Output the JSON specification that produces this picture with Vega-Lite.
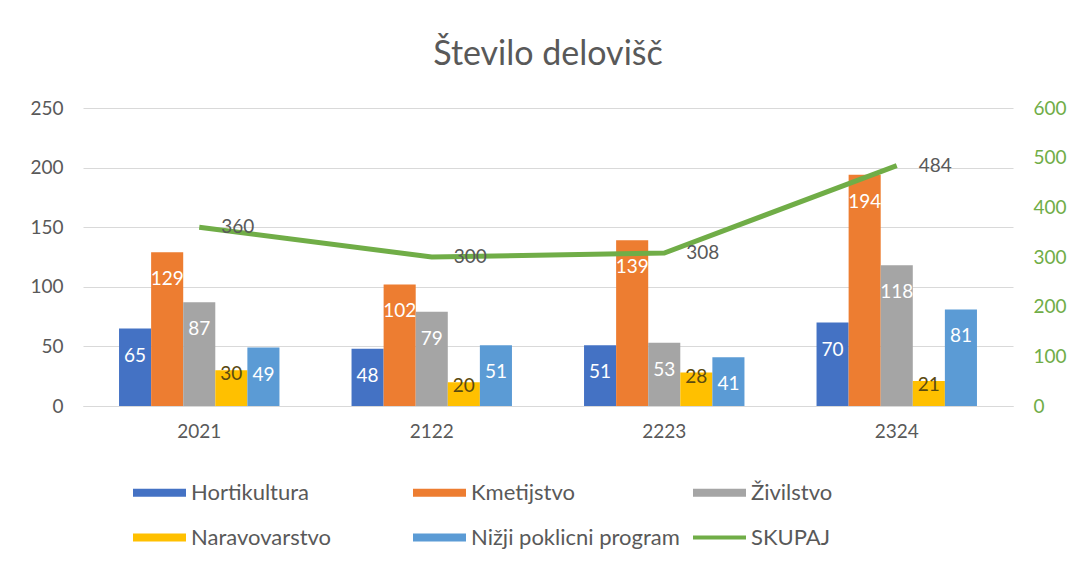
{
  "$schema": "https://vega.github.io/schema/vega-lite/v6.json",
  "autosize": "none",
  "width": 930,
  "height": 298,
  "padding": {"left": 83, "top": 108, "right": 62, "bottom": 158},
  "background": "white",
  "config": {
    "font": "Lato",
    "view": {"stroke": null},
    "axis": {"labelFont": "Lato", "labelFontSize": 19, "labelColor": "#595959", "ticks": false, "title": null}
  },
  "title": {"text": "Število delovišč", "fontSize": 34, "fontWeight": "normal", "color": "#595959", "font": "Lato", "offset": 27},
  "datasets": {
    "bars": [
      {"leto": "2021", "kategorija": "Hortikultura", "vrednost": 65},
      {"leto": "2021", "kategorija": "Kmetijstvo", "vrednost": 129},
      {"leto": "2021", "kategorija": "Živilstvo", "vrednost": 87},
      {"leto": "2021", "kategorija": "Naravovarstvo", "vrednost": 30},
      {"leto": "2021", "kategorija": "Nižji poklicni program", "vrednost": 49},
      {"leto": "2122", "kategorija": "Hortikultura", "vrednost": 48},
      {"leto": "2122", "kategorija": "Kmetijstvo", "vrednost": 102},
      {"leto": "2122", "kategorija": "Živilstvo", "vrednost": 79},
      {"leto": "2122", "kategorija": "Naravovarstvo", "vrednost": 20},
      {"leto": "2122", "kategorija": "Nižji poklicni program", "vrednost": 51},
      {"leto": "2223", "kategorija": "Hortikultura", "vrednost": 51},
      {"leto": "2223", "kategorija": "Kmetijstvo", "vrednost": 139},
      {"leto": "2223", "kategorija": "Živilstvo", "vrednost": 53},
      {"leto": "2223", "kategorija": "Naravovarstvo", "vrednost": 28},
      {"leto": "2223", "kategorija": "Nižji poklicni program", "vrednost": 41},
      {"leto": "2324", "kategorija": "Hortikultura", "vrednost": 70},
      {"leto": "2324", "kategorija": "Kmetijstvo", "vrednost": 194},
      {"leto": "2324", "kategorija": "Živilstvo", "vrednost": 118},
      {"leto": "2324", "kategorija": "Naravovarstvo", "vrednost": 21},
      {"leto": "2324", "kategorija": "Nižji poklicni program", "vrednost": 81}
    ],
    "totals": [
      {"leto": "2021", "skupaj": 360},
      {"leto": "2122", "skupaj": 300},
      {"leto": "2223", "skupaj": 308},
      {"leto": "2324", "skupaj": 484}
    ]
  },
  "encoding": {
    "x": {
      "field": "leto", "type": "nominal",
      "scale": {"paddingInner": 0.31, "paddingOuter": 0.155},
      "axis": {"labelAngle": 0, "labelPadding": 16, "domain": true, "domainColor": "#D9D9D9", "grid": false}
    }
  },
  "layer": [
    {
      "data": {"name": "bars"},
      "encoding": {
        "xOffset": {"field": "kategorija", "type": "nominal", "sort": ["Hortikultura", "Kmetijstvo", "Živilstvo", "Naravovarstvo", "Nižji poklicni program"], "scale": {"paddingInner": 0, "paddingOuter": 0}},
        "y": {
          "field": "vrednost", "type": "quantitative",
          "scale": {"domain": [0, 250], "nice": false},
          "axis": {"values": [0, 50, 100, 150, 200, 250], "domain": false, "grid": true, "gridColor": "#D9D9D9", "labelPadding": 20}
        }
      },
      "layer": [
        {
          "mark": {"type": "bar"},
          "encoding": {
            "color": {
              "field": "kategorija", "type": "nominal",
              "scale": {
                "domain": ["Hortikultura", "Kmetijstvo", "Živilstvo", "Naravovarstvo", "Nižji poklicni program", "SKUPAJ"],
                "range": ["#4472C4", "#ED7D31", "#A5A5A5", "#FFC000", "#5B9BD5", "#70AD47"]
              },
              "legend": {
                "title": null,
                "orient": "none",
                "legendX": 50,
                "legendY": 358,
                "direction": "horizontal",
                "columns": 3,
                "gridAlign": "all",
                "columnPadding": 13,
                "rowPadding": 7,
                "labelFont": "Lato",
                "labelFontSize": 22,
                "labelColor": "#595959",
                "labelOffset": 5,
                "labelLimit": 400,
                "symbolSize": 2809,
                "symbolStrokeWidth": 0,
                "symbolType": "M-1,-0.154H1V0.154H-1Z",
                "encode": {
                  "symbols": {
                    "update": {
                      "shape": {"signal": "datum.value === 'SKUPAJ' ? 'M-1,-0.08H1V0.08H-1Z' : 'M-1,-0.154H1V0.154H-1Z'"},
                      "fill": {"signal": "scale('color', datum.value)"},
                      "strokeWidth": {"value": 0},
                      "opacity": {"value": 1}
                    }
                  }
                }
              }
            }
          }
        },
        {
          "transform": [{"filter": "datum.kategorija !== 'Naravovarstvo'"}],
          "mark": {"type": "text", "baseline": "middle", "dy": 27, "fontSize": 19, "color": "white", "font": "Lato"},
          "encoding": {"text": {"field": "vrednost", "type": "quantitative"}}
        },
        {
          "transform": [{"filter": "datum.kategorija === 'Naravovarstvo'"}],
          "mark": {"type": "text", "baseline": "middle", "dy": 4, "fontSize": 19, "color": "#5a4a10", "font": "Lato"},
          "encoding": {"text": {"field": "vrednost", "type": "quantitative"}}
        }
      ]
    },
    {
      "data": {"name": "totals"},
      "encoding": {
        "y": {
          "field": "skupaj", "type": "quantitative",
          "scale": {"domain": [0, 600], "nice": false},
          "axis": {"orient": "right", "values": [0, 100, 200, 300, 400, 500, 600], "domain": false, "grid": false, "labelColor": "#70AD47", "labelPadding": 20}
        }
      },
      "layer": [
        {
          "mark": {"type": "line", "strokeWidth": 5, "color": "#70AD47"},
          "encoding": {"color": {"datum": "SKUPAJ"}}
        },
        {
          "mark": {"type": "text", "align": "left", "baseline": "middle", "dx": 22, "fontSize": 19, "color": "#595959", "font": "Lato"},
          "encoding": {"text": {"field": "skupaj", "type": "quantitative"}}
        }
      ]
    }
  ],
  "resolve": {"scale": {"y": "independent"}}
}
